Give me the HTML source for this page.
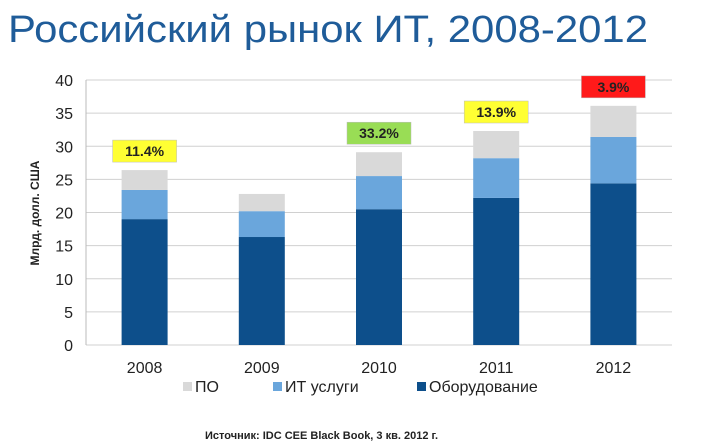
<!DOCTYPE html>
<html><head><meta charset="utf-8"><style>
body{margin:0;background:#fff;width:720px;height:443px;overflow:hidden;font-family:"Liberation Sans",sans-serif}
</style></head><body>
<svg width="720" height="443" xmlns="http://www.w3.org/2000/svg">
<text x="8" y="42" font-size="38" fill="#1f5c99" font-family="Liberation Sans, sans-serif" textLength="640" lengthAdjust="spacingAndGlyphs">Российский рынок ИТ, 2008-2012</text>
<g id="grid"></g><g id="bars"></g><g id="labels"></g>
<text transform="translate(39,213) rotate(-90)" text-anchor="middle" font-size="12" font-weight="bold" fill="#222">Млрд. долл. США</text>
<g font-size="16" fill="#222">
<rect x="183" y="382" width="9" height="9" fill="#d9d9d9"/>
<text x="195" y="392">ПО</text>
<rect x="273" y="382" width="9" height="9" fill="#6aa6dc"/>
<text x="285" y="392">ИТ услуги</text>
<rect x="417" y="382" width="9" height="9" fill="#0d4f8b"/>
<text x="429" y="392">Оборудование</text>
</g>
<text x="205" y="439" font-size="11" font-weight="bold" fill="#222">Источник: IDC CEE Black Book, 3 кв. 2012 г.</text>
</svg>
<script>
const categories=["2008","2009","2010","2011","2012"];
const hardware=[19.0,16.3,20.5,22.2,24.4];
const services=[4.4,3.9,5.0,6.0,7.0];
const software=[3.0,2.6,3.6,4.1,4.7];
const growthLabels=["11.4%","","33.2%","13.9%","3.9%"];
const growthColors=["#ffff33","","#99dd55","#ffff33","#ff1a1a"];
const yTicks=[0,5,10,15,20,25,30,35,40];
const NS="http://www.w3.org/2000/svg";
const x0=86,x1=672,y0=345,y1=80,yMax=40;
const y=v=>y0-(v/yMax)*(y0-y1);
const band=(x1-x0)/categories.length;
const xc=i=>x0+band*(i+0.5);
const bw=46;
function mk(t,a,p){const e=document.createElementNS(NS,t);for(const k in a)e.setAttribute(k,a[k]);p.appendChild(e);return e;}
const grid=document.getElementById('grid');
yTicks.forEach(t=>{
 const l=mk('line',{x1:x0,x2:x1,y1:y(t),y2:y(t),stroke:'#d0d0d0','stroke-width':1},grid);
 
 
 const tx=mk('text',{x:x0-13,y:y(t)+6,'text-anchor':'end','font-size':16,fill:'#222'},grid);
 tx.textContent=t;
 
 
});
const ax=mk('line',{x1:x0,x2:x0,y1:y1,y2:y0,stroke:'#bbb'},grid);


const bars=document.getElementById('bars'),labels=document.getElementById('labels');
categories.forEach((c,i)=>{
 const segs=[[hardware[i],'#0d4f8b','hardware'],[services[i],'#6aa6dc','services'],[software[i],'#d9d9d9','software']];
 let base=0;
 segs.forEach(s=>{
  const r=mk('rect',{x:xc(i)-bw/2,y:y(base+s[0]),width:bw,height:y(base)-y(base+s[0]),fill:s[1]},bars);
  
  
  base+=s[0];
 });
 const tx=mk('text',{x:xc(i),y:373,'text-anchor':'middle','font-size':16,fill:'#222'},labels);
 tx.textContent=c;
 
 
 if(growthLabels[i]){
  const top=y(base)-8;
  const r=mk('rect',{x:xc(i)-32,y:top-22,width:64,height:22,fill:growthColors[i],stroke:'#bbb','stroke-width':0.5},labels);
  
  
  const t=mk('text',{x:xc(i),y:top-6,'text-anchor':'middle','font-size':14,fill:'#222','font-weight':'bold'},labels);
  t.textContent=growthLabels[i];
  
  
 }
});
</script>
</body></html>
